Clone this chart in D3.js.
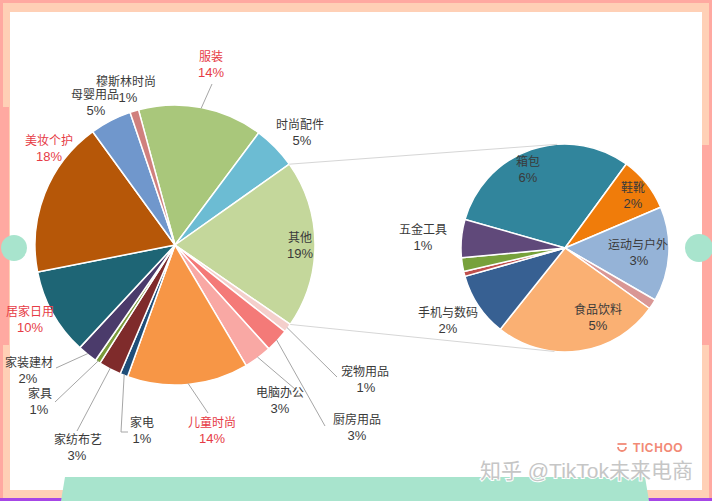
<!DOCTYPE html>
<html><head><meta charset="utf-8">
<script src="https://cdn.jsdelivr.net/npm/d3@7"></script>
<style>html,body{margin:0;padding:0;background:#fff;} svg{display:block}</style>
</head><body><svg id="c" width="712" height="501"></svg>
<script>
// ---------- DATA ----------
const mainCategories = ["服装","时尚配件","其他","宠物用品","厨房用品","电脑办公","儿童时尚","家电","家纺布艺","家具","家装建材","居家日用","美妆个护","母婴用品","穆斯林时尚"];
const mainValues = [14.4, 5.0, 19.4, 1.0, 2.7, 3.2, 14.0, 0.9, 2.6, 0.6, 2.3, 10.0, 18.1, 4.8, 1.0];
const highlightedCategories = ["服装","美妆个护","居家日用","儿童时尚"];
const subCategories = ["箱包","鞋靴","运动与户外","","食品饮料","手机与数码","","","五金工具"];
const subValues = [5.94, 1.66, 2.86, 0.30, 5.01, 1.92, 0.15, 0.41, 1.15];

// ---------- STYLE / LAYOUT ----------
const mainColors = ["#A9C77B","#6CBCD3","#C4D79B","#F4CFCB","#F47A78","#F9A8A4","#F79646","#1F4E79","#7F2B2B","#7A9A3A","#4B3B6B","#1E6575","#B65708","#7097CC","#D0807E"];
const subColors = ["#31859C","#F07C0A","#95B3D7","#D99795","#FAB073","#376092","#C0504D","#77A13B","#60497A"];
const deg = Math.PI/180;
const mainCenter = [175, 245], mainR = 140, mainStart = -15.1*deg;
const subCenter = [565, 248], subR = 104, subStart = -74.1*deg;
// label positions (name line centre), pct x offset
const mainLabelPos = {
  "服装":[211,57,0], "时尚配件":[300,125,2], "其他":[300,238,0], "宠物用品":[365,372,1],
  "厨房用品":[357,420,0], "电脑办公":[280,393,0], "儿童时尚":[212,423,0], "家电":[142,423,0],
  "家纺布艺":[78,440,-1], "家具":[40,394,-1], "家装建材":[29,363,-1], "居家日用":[30,312,0],
  "美妆个护":[49,141,0], "母婴用品":[95,95,1], "穆斯林时尚":[126,82,2]
};
const mainLeaders = {
  "服装":[[212,84]], "宠物用品":[[337,377]], "厨房用品":[[325,426]], "电脑办公":[[295,389]],
  "儿童时尚":[[208,413]], "家电":[[128,432],[121,432]], "家纺布艺":[[77,431]], "家具":[[55,402]], "家装建材":[[56,368]]
};
const subLabelPos = {
  "箱包":[528,162,0], "鞋靴":[633,188,0], "运动与户外":[638,245,1], "食品饮料":[598,310,0],
  "手机与数码":[448,313,0], "五金工具":[423,230,0]
};

const svg = d3.select("#c");
const FONT = "'Liberation Sans', Arial, 'Noto Sans CJK SC', sans-serif";

// ---------- FRAME ----------
svg.append("rect").attr("x",0).attr("y",0).attr("width",712).attr("height",501).attr("fill","#FFA9A1");
svg.append("rect").attr("x",3).attr("y",3).attr("width",706).attr("height",495).attr("fill","#FFD0B6");
svg.append("rect").attr("x",0).attr("y",107).attr("width",9).attr("height",238).attr("fill","#FFA9A1");
svg.append("rect").attr("x",702).attr("y",145).attr("width",10).attr("height",200).attr("fill","#FFA9A1");
svg.append("rect").attr("x",10).attr("y",12).attr("width",692).attr("height",478).attr("fill","#ffffff");
svg.append("rect").attr("x",0).attr("y",498).attr("width",712).attr("height",3).attr("fill","#A646E6");
svg.append("path").attr("d","M65,477 L645,477 L649,501 L61,501 Z").attr("fill","#A8E4CD");
svg.append("circle").attr("cx",14).attr("cy",248).attr("r",13).attr("fill","#A8E4CD");
svg.append("circle").attr("cx",699).attr("cy",248).attr("r",14).attr("fill","#A8E4CD");

// ---------- MAIN PIE ----------
const mainColor = d3.scaleOrdinal().domain(mainCategories).range(mainColors);
const mainPie = d3.pie().sort(null).value(d=>d.v).startAngle(mainStart).endAngle(mainStart+2*Math.PI);
const mainData = mainPie(mainCategories.map((c,i)=>({c, v: mainValues[i]})));
const mainArc = d3.arc().innerRadius(0).outerRadius(mainR);
const gMain = svg.append("g").attr("transform",`translate(${mainCenter})`);
gMain.selectAll("path").data(mainData).join("path")
  .attr("d", mainArc).attr("fill", d=>mainColor(d.data.c))
  .attr("stroke","#fff").attr("stroke-width",1.5).attr("stroke-linejoin","round");

// ---------- SUB PIE ----------
const subColor = d3.scaleOrdinal().domain(d3.range(subValues.length)).range(subColors);
const subPie = d3.pie().sort(null).value(d=>d.v).startAngle(subStart).endAngle(subStart+2*Math.PI);
const subData = subPie(subCategories.map((c,i)=>({c, v: subValues[i], i})));
const subArc = d3.arc().innerRadius(0).outerRadius(subR);
const gSub = svg.append("g").attr("transform",`translate(${subCenter})`);
gSub.selectAll("path").data(subData).join("path")
  .attr("d", subArc).attr("fill", d=>subColor(d.data.i))
  .attr("stroke","#fff").attr("stroke-width",1.5).attr("stroke-linejoin","round");

// ---------- CONNECTOR LINES ----------
const other = mainData.find(d=>d.data.c==="其他");
function arcPoint(center, r, a){ return [center[0]+r*Math.sin(a), center[1]-r*Math.cos(a)]; }
function tangentPoint(P, C, r, sign){
  const dx=C[0]-P[0], dy=C[1]-P[1], d=Math.hypot(dx,dy);
  const base=Math.atan2(dy,dx), half=Math.asin(r/d), L=Math.sqrt(d*d-r*r);
  const a=base+sign*half;
  return [P[0]+L*Math.cos(a), P[1]+L*Math.sin(a)];
}
const pTop = arcPoint(mainCenter, mainR, other.startAngle);
const pBot = arcPoint(mainCenter, mainR, other.endAngle);
const conn = [[pTop, tangentPoint(pTop, subCenter, subR, -1)], [pBot, tangentPoint(pBot, subCenter, subR, 1)]];
svg.selectAll("line.conn").data(conn).join("line").attr("class","conn")
  .attr("x1",d=>d[0][0]).attr("y1",d=>d[0][1]).attr("x2",d=>d[1][0]).attr("y2",d=>d[1][1])
  .attr("stroke","#D6D6D6").attr("stroke-width",1);

// ---------- LEADER LINES ----------
const leaderData = mainData.filter(d=>mainLeaders[d.data.c]).map(d=>{
  const mid=(d.startAngle+d.endAngle)/2;
  return mainLeaders[d.data.c].concat([arcPoint(mainCenter, mainR-1, mid)]);
});
svg.selectAll("path.leader").data(leaderData).join("path").attr("class","leader")
  .attr("d", d=>d3.line()(d)).attr("fill","none").attr("stroke","#A6A6A6").attr("stroke-width",1);

// ---------- LABELS ----------
function drawLabel(name, value, pos, red){
  const col = red ? "#E63B46" : "#3A3A3A";
  const g = svg.append("g").attr("font-family",FONT).attr("text-anchor","middle").attr("fill",col);
  g.append("text").attr("x",pos[0]).attr("y",pos[1]).attr("dy","0.36em").attr("font-size","12px").text(name);
  g.append("text").attr("x",pos[0]+pos[2]).attr("y",pos[1]+15).attr("dy","0.36em").attr("font-size","13px").text(Math.round(value)+"%");
}
mainCategories.forEach((c,i)=>drawLabel(c, mainValues[i], mainLabelPos[c], highlightedCategories.includes(c)));
subCategories.forEach((c,i)=>{ if(c) drawLabel(c, subValues[i], subLabelPos[c], false); });

// ---------- WATERMARKS ----------
const logo = svg.append("g").attr("transform","translate(622,448)");
logo.append("path").attr("d","M-4,-1 A4,4 0 1,0 4,-1").attr("fill","none").attr("stroke","#F28A76").attr("stroke-width",1.8);
logo.append("line").attr("x1",-4.5).attr("x2",4.5).attr("y1",-4).attr("y2",-4).attr("stroke","#F28A76").attr("stroke-width",1.8);
svg.append("text").attr("x",633).attr("y",452).attr("font-family","'Liberation Sans', Arial, sans-serif")
  .attr("font-size","12px").attr("font-weight","bold").attr("letter-spacing","0.6px").attr("fill","#F28A76").text("TICHOO");
svg.append("text").attr("x",693).attr("y",478).attr("text-anchor","end").attr("font-family",FONT)
  .attr("font-size","21px").attr("fill","#C6C6C6").attr("stroke","#ffffff").attr("stroke-width",2)
  .attr("paint-order","stroke").text("知乎 @TikTok未来电商");
</script>
</body></html>
